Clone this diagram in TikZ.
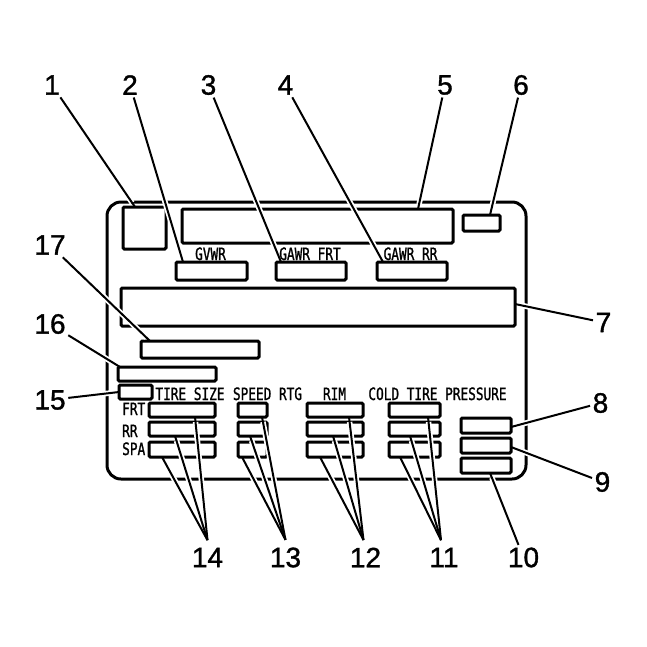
\documentclass[tikz,border=0pt]{standalone}
\usepackage{fontspec}
\setmainfont{Liberation Sans}
\newfontfamily\numfont[FakeBold=1.2]{Liberation Sans}
\newfontfamily\platefont[FakeStretch=0.75,FakeBold=1.2]{DejaVu Sans Mono}
\usetikzlibrary{calc}
\newcommand\plbox[5]{\node[box,minimum width=#4pt-#2pt,minimum height=#5pt-#3pt] (#1) at ({(#2+#4)/2},{(#3+#5)/2}) {};}
\begin{document}
\begin{tikzpicture}[x=1pt,y=-1pt,
  box/.style={draw, line width=3pt, rounded corners=1.2pt, inner sep=0pt, outer sep=0pt},
  num/.style={font=\numfont\fontsize{28}{30}\selectfont, inner sep=2.5pt},
  lbl/.style={font=\platefont\fontsize{17}{19}\selectfont, inner sep=0pt, anchor=base},
  halo/.style={draw=white, line width=5.5pt, shorten >=5pt},
  leader/.style={draw, line width=2pt},
]
\useasboundingbox[fill=white] (0,0) rectangle (647,646);
% card outline
\node[draw, line width=3pt, rounded corners=14pt, minimum width=419pt, minimum height=277pt, inner sep=0pt, outer sep=0pt] (card) at (316.5,340.5) {};
% boxes
\plbox{b1}{123}{207}{166}{249}
\plbox{b5}{182}{209}{453}{243}
\plbox{b6}{463}{215}{500}{231}
\plbox{b2}{176}{262}{247}{280}
\plbox{b3}{276}{262}{346}{280}
\plbox{b4}{377}{262}{447}{280}
\plbox{b7}{121}{288}{515}{326}
\plbox{b17}{141}{341}{259}{358}
\plbox{b16}{118}{367}{216}{381}
\plbox{b15}{119}{385}{152}{399}
\plbox{t1}{149}{403}{215}{417}
\plbox{t2}{149}{422}{215}{436}
\plbox{t3}{149}{442}{215}{457}
\plbox{s1}{238}{403}{267}{417}
\plbox{s2}{238}{422}{267}{436}
\plbox{s3}{238}{442}{267}{457}
\plbox{r1}{307}{403}{363}{417}
\plbox{r2}{307}{422}{363}{436}
\plbox{r3}{307}{442}{363}{457}
\plbox{c1}{389}{403}{440}{417}
\plbox{c2}{389}{422}{440}{436}
\plbox{c3}{389}{442}{440}{457}
\plbox{b8}{461}{418}{511}{433}
\plbox{b9}{461}{438}{511}{453}
\plbox{b10}{461}{458}{511}{473}
% numbers
\node[num] (n1) at (52,85) {1};
\node[num] (n2) at (130,85) {2};
\node[num] (n3) at (208.5,85) {3};
\node[num] (n4) at (285.5,85) {4};
\node[num] (n5) at (445,85) {5};
\node[num] (n6) at (521,85) {6};
\node[num] (n7) at (603.5,322.5) {7};
\node[num] (n8) at (600.5,403) {8};
\node[num] (n9) at (602.5,482) {9};
\node[num] (n10) at (523.5,557.5) {10};
\node[num] (n11) at (444,557.5) {11};
\node[num] (n12) at (365.5,557.5) {12};
\node[num] (n13) at (285.5,557.5) {13};
\node[num] (n14) at (207.5,557.5) {14};
\node[num] (n15) at (50,400) {15};
\node[num] (n16) at (50,324) {16};
\node[num] (n17) at (50,245) {17};
% leader end points
\coordinate (e1) at ([xshift=12pt]b1.north west);
\coordinate (e2) at ([xshift=7pt]b2.north west);
\coordinate (e3) at ([xshift=5pt]b3.north west);
\coordinate (e4) at ([xshift=6pt]b4.north west);
\coordinate (e5) at ([xshift=-35pt]b5.north east);
\coordinate (e6) at ([xshift=-10pt]b6.north east);
\coordinate (e7) at ([yshift=3pt]b7.east);
\coordinate (e8) at ([yshift=-1.5pt]b8.east);
\coordinate (e9) at ([yshift=-1.5pt]b9.east);
\coordinate (e10) at ([xshift=4pt]b10.south);
\coordinate (e11a) at ([xshift=-12pt]c1.south east);
\coordinate (e11b) at ([xshift=-4.5pt]c2.south);
\coordinate (e11c) at ([xshift=11pt]c3.south west);
\coordinate (e12a) at ([xshift=-14pt]r1.south east);
\coordinate (e12b) at ([xshift=-2pt]r2.south);
\coordinate (e12c) at ([xshift=13pt]r3.south west);
\coordinate (e13a) at ([xshift=-5pt]s1.south east);
\coordinate (e13b) at ([xshift=12pt]s2.south west);
\coordinate (e13c) at ([xshift=4pt]s3.south west);
\coordinate (e14a) at ([xshift=-20pt]t1.south east);
\coordinate (e14b) at ([xshift=26pt]t2.south west);
\coordinate (e14c) at ([xshift=13pt]t3.south west);
\coordinate (e15) at (b15.west);
\coordinate (e16) at ([xshift=2pt]b16.north west);
\coordinate (e17) at ([xshift=9pt]b17.north west);
% convergence points above bottom numbers
\coordinate (k11) at ([xshift=-3pt,yshift=5pt]n11.north);
\coordinate (k12) at ([xshift=-2pt,yshift=5pt]n12.north);
\coordinate (k13) at ([yshift=5pt]n13.north);
\coordinate (k14) at ([yshift=5pt]n14.north);
\def\leaderlist{n1/e1,n2/e2,n3/e3,n4/e4,n5/e5,n6/e6,n7/e7,n8/e8,n9/e9,n10/e10,k11/e11a,k11/e11b,k11/e11c,k12/e12a,k12/e12b,k12/e12c,k13/e13a,k13/e13b,k13/e13c,k14/e14a,k14/e14b,k14/e14c,n15/e15,n16/e16,n17/e17}
\foreach \a/\b in \leaderlist {\draw[halo] (\a) -- (\b);}
\foreach \a/\b in \leaderlist {\draw[leader] (\a) -- (\b);}
% plate texts
\node[lbl] (tgvwr) at (210.5,260) {GVWR};
\node[lbl] (tgfrt) at (310,260) {GAWR FRT};
\node[lbl] (tgrr) at (410.5,260) {GAWR RR};
\node[lbl] (ttire) at (190,400) {TIRE SIZE};
\node[lbl] (tspeed) at (267.5,400) {SPEED RTG};
\node[lbl] (trim) at (334.5,400) {RIM};
\node[lbl] (tcold) at (437.5,400) {COLD TIRE PRESSURE};
\node[lbl, anchor=base west] (tfrt) at (122,415) {FRT};
\node[lbl, anchor=base west] (trr) at (122,437) {RR};
\node[lbl, anchor=base west] (tspa) at (122,455) {SPA};
\end{tikzpicture}
\end{document}
